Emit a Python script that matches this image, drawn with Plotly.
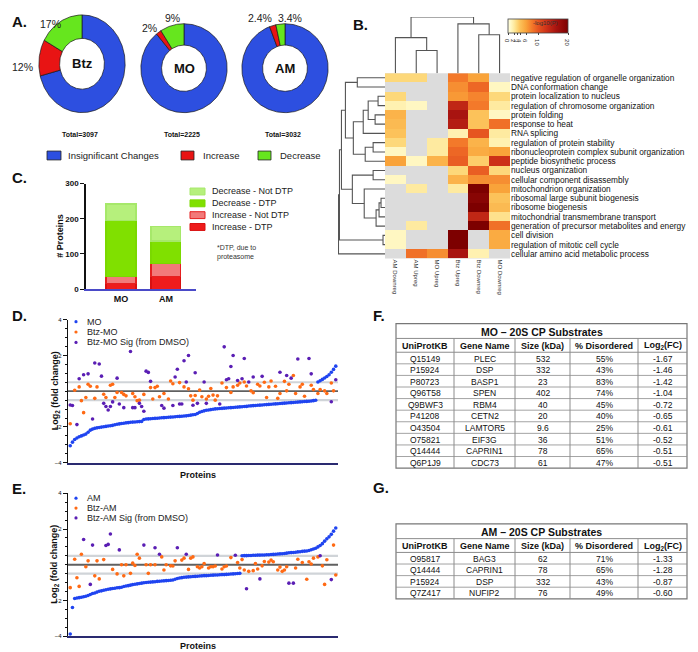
import numpy as np
import plotly.graph_objects as go

W, H = 698, 652
FONT = "Liberation Sans, Arial, sans-serif"

# ---------------- Panel A data ----------------
donut_names = ["Btz", "MO", "AM"]
donut_totals = [3097, 2225, 3032]
donut_categories = ["Insignificant Changes", "Increase", "Decrease"]
donut_insig = [71.0, 89.0, 94.2]
donut_increase = [12.0, 2.0, 2.4]
donut_decrease = [17.0, 9.0, 3.4]
donut_colors = ["#2d4fe0", "#e81414", "#66e61e"]

# ---------------- Panel B data ----------------
hm_columns = ["AM Downreg", "AM Upreg", "MO Upreg", "Btz Upreg", "Btz Downreg", "MO Downreg"]
hm_terms = [
    "negative regulation of organelle organization",
    "DNA conformation change",
    "protein localization to nucleus",
    "regulation of chromosome organization",
    "protein folding",
    "response to heat",
    "RNA splicing",
    "regulation of protein stability",
    "ribonucleoprotein complex subunit organization",
    "peptide biosynthetic process",
    "nucleus organization",
    "cellular component disassembly",
    "mitochondrion organization",
    "ribosomal large subunit biogenesis",
    "ribosome biogenesis",
    "mitochondrial transmembrane transport",
    "generation of precursor metabolites and energy",
    "cell division",
    "regulation of mitotic cell cycle",
    "cellular amino acid metabolic process",
]
N = None
hm_values = [
    [3, 3, N, 8, 6, N],
    [N, N, N, 7, 9, 1],
    [3, N, N, 6.5, 7.5, 3],
    [1.5, 1, N, 14, 8, 2],
    [5, N, N, 16, 4, 1],
    [4.5, N, N, 15, 4, 8.5],
    [4, N, N, 1.5, 10, 2],
    [3, N, 2, 8, 5, 1.5],
    [1, N, 2, 9, 5.5, 6],
    [6, 1, 5, 9.5, 3.5, 13],
    [N, N, N, 3, 9.5, 3],
    [1, N, N, 5, 7, 7],
    [N, 2, N, 2, 20, 6],
    [N, N, N, N, 19, 4],
    [N, N, N, N, 20, 4.5],
    [N, N, N, N, 14, 2.5],
    [N, 2, N, N, 20, 8.5],
    [1, N, N, 20, N, 5.5],
    [1, N, N, 20, N, 5.5],
    [N, 8.5, 7, 16, 1.5, N],
]
hm_ticks = [0, 2, 3, 4, 6, 10, 20]
# linkage: (child_a, child_b, height)
col_linkage = [(1, 2, 23), (0, 6, 36), (4, 5, 39), (3, 8, 50), (7, 9, 57)]
row_linkage = [(0, 1, 28), (2, 3, 7), (4, 5, 10), (21, 22, 17), (23, 6, 22),
               (7, 8, 12), (25, 9, 20), (24, 26, 32), (20, 27, 40),
               (10, 11, 12), (13, 14, 4), (30, 15, 6), (31, 16, 9), (12, 32, 21),
               (29, 33, 33), (28, 34, 44), (17, 18, 2), (35, 36, 46), (37, 19, 47)]

# ---------------- Panel C data ----------------
c_categories = ["MO", "AM"]
c_series = ["Increase - DTP", "Increase - Not DTP", "Decrease - DTP", "Decrease - Not DTP"]
c_inc_dtp = [17, 37]
c_inc_notdtp = [20, 35]
c_dec_dtp = [158, 65]
c_dec_notdtp = [47, 40]
c_ticks = [0, 100, 200, 300]

# ---------------- Panel D data ----------------
mo_fc = [-3.05, -2.85, -2.70, -2.62, -2.55, -2.50, -2.45, -2.40, -2.30, -2.18,
         -2.12, -2.08, -2.05, -2.03, -2.01, -1.99, -1.97, -1.95, -1.93, -1.91,
         -1.88, -1.85, -1.83, -1.81, -1.79, -1.77, -1.76, -1.74, -1.73, -1.72,
         -1.71, -1.70, -1.69, -1.58, -1.56, -1.55, -1.54, -1.53, -1.52, -1.51,
         -1.50, -1.49, -1.48, -1.47, -1.46, -1.45, -1.44, -1.43, -1.42, -1.41,
         -1.40, -1.39, -1.38, -1.36, -1.34, -1.32, -1.30, -1.25, -1.18, -1.14,
         -1.10, -1.07, -1.05, -1.03, -1.01, -0.99, -0.98, -0.97, -0.96, -0.95,
         -0.94, -0.93, -0.92, -0.91, -0.90, -0.89, -0.88, -0.87, -0.86, -0.85,
         -0.83, -0.82, -0.81, -0.80, -0.79, -0.78, -0.77, -0.76, -0.75, -0.74,
         -0.73, -0.72, -0.71, -0.70, -0.69, -0.68, -0.67, -0.66, -0.65, -0.64,
         -0.63, -0.62, -0.61, -0.60, -0.59, -0.58, -0.57, -0.56, -0.55, -0.53, -0.51,
         0.51, 0.58, 0.66, 0.74, 0.82, 0.92, 1.06, 1.22, 1.40]
btz_mo_idx = [1, 3, 5, 6, 7, 8, 9, 10, 12, 13, 16, 17, 19, 20, 21, 22, 24, 25, 26, 29,
              30, 31, 32, 34, 37, 38, 39, 40, 41, 43, 45, 46, 47, 50, 52, 54, 55, 56, 57, 59,
              60, 62, 63, 64, 65, 66, 67, 69, 71, 73, 74, 76, 77, 79, 80, 82, 83, 85, 86, 88,
              89, 90, 91, 93, 94, 95, 97, 98, 99, 101, 102, 104, 105, 106, 109, 110, 112, 113,
              115, 116, 118, 119]
btz_mo_fc = [-1.82, 0.05, 0.24, -0.53, -1.20, -0.35, 0.39, 0.28, -0.40, 0.24,
             -0.17, -0.35, 0.33, 0.39, -0.35, -0.07, -0.07, -0.18, -0.26, -0.13,
             -0.31, -0.53, -0.50, -0.18, 0.20, -0.44, 0.20, 0.28, -0.31, -0.13,
             -0.44, 0.57, 0.42, 0.48, 0.24, 0.13, -0.26, -0.50, -0.24, 0.06,
             -0.31, -0.44, -0.28, 0.15, -0.22, -0.50, -0.26, 0.46, 0.20, -0.07,
             0.24, 0.33, 0.46, 0.51, 0.29, 0.02, -0.09, 0.39, 0.29, 0.50,
             -0.35, 0.24, 0.57, 0.28, -0.40, -0.13, 0.55, 0.02, 0.39, 0.88,
             -0.13, 0.24, 0.39, -0.28, 0.33, 0.09, -0.13, 0.09, 0.02, -0.13,
             0.46, 0.02]
btz_mo_sig_idx = [1, 2, 4, 5, 7, 9, 11, 12, 14, 15, 16, 17, 18, 19, 20, 22, 23, 25, 28, 29,
                  30, 32, 33, 34, 35, 36, 37, 42, 43, 47, 48, 49, 50, 51, 52, 53, 54, 56, 57, 58,
                  61, 62, 68, 70, 71, 72, 73, 74, 76, 78, 79, 81, 83, 87, 95, 98, 100, 103, 108,
                  109, 118, 120]
btz_mo_sig_fc = [-0.77, -0.80, -1.87, 0.70, 0.92, 0.97, -1.56, 1.58, 1.52, 0.84,
                 -0.68, -0.86, -1.05, -0.86, -0.60, 0.73, -0.72, -0.92, 2.22, -0.92,
                 -0.92, -0.68, -0.86, -1.12, 1.12, 1.05, 0.55, -0.80, -0.95, -0.80,
                 0.79, 1.23, -0.72, -0.72, 1.70, 0.51, 2.00, -0.79, 1.03, -0.68,
                 0.51, -0.68, -0.72, 2.48, 0.64, 0.70, 1.38, 2.00, 0.60, 0.70,
                 1.83, 0.51, 0.79, 0.83, 1.06, 0.88, 0.73, 1.80, 1.83, 0.97,
                 -0.59, 0.64]

# ---------------- Panel E data ----------------
am_fc = [-3.87, -2.39, -1.89, -1.86, -1.84, -1.82, -1.79, -1.76, -1.72, -1.66,
         -1.61, -1.58, -1.53, -1.48, -1.46, -1.43, -1.40, -1.37, -1.35, -1.33,
         -1.31, -1.29, -1.28, -1.26, -1.22, -1.19, -1.17, -1.14, -1.11, -1.09,
         -1.07, -1.05, -1.03, -1.01, -0.99, -0.98, -0.97, -0.96, -0.95, -0.93,
         -0.92, -0.91, -0.90, -0.89, -0.88, -0.87, -0.85, -0.81, -0.77, -0.74,
         -0.72, -0.70, -0.69, -0.68, -0.67, -0.66, -0.65, -0.64, -0.63, -0.62,
         -0.61, -0.61, -0.60, -0.59, -0.58, -0.57, -0.57, -0.56, -0.55, -0.55,
         -0.54, -0.53, -0.52, -0.51, -0.50, -0.49, -0.48,
         0.50, 0.51, 0.51, 0.52, 0.52, 0.53, 0.53, 0.54, 0.54, 0.55, 0.55, 0.56, 0.56,
         0.57, 0.58, 0.59, 0.60, 0.61, 0.62, 0.63, 0.65, 0.67, 0.68,
         0.69, 0.70, 0.72, 0.73, 0.75, 0.76, 0.77, 0.80, 0.84, 0.88,
         0.92, 1.00, 1.08, 1.18, 1.32, 1.45, 1.56, 1.70, 1.88, 2.06]
btz_am_idx = [1, 3, 4, 5, 6, 8, 9, 12, 13, 14, 16, 20, 22, 24, 25, 26, 28, 29, 30, 31,
              32, 35, 36, 37, 39, 42, 43, 44, 46, 47, 48, 51, 52, 54, 55, 56, 58, 59, 60, 61,
              63, 64, 65, 66, 69, 70, 71, 73, 76, 77, 78, 79, 81, 83, 84, 85, 87, 88, 90, 91,
              92, 94, 95, 96, 97, 98, 102, 103, 105, 107, 108, 109, 110, 112, 114, 115, 116,
              119, 120]
btz_am_fc = [-1.28, 0.31, -0.73, -1.21, 0.59, -0.11, 0.22, -0.62, 0.22, -0.79,
             0.29, -0.26, -0.51, 0.00, -0.62, 0.00, -0.48, 0.09, -0.04, 0.59,
             0.37, 0.00, -0.48, 0.00, 0.00, 0.44, -0.29, 0.00, -0.06, -0.07,
             0.22, 0.26, 0.37, -0.26, 0.37, 0.44, -0.11, -0.18, -0.11, 0.07,
             -0.18, -0.11, -0.11, -0.07, -0.24, -0.11, -0.07, 0.40, 0.13, -0.18,
             0.29, -0.29, -0.37, -0.33, 0.07, -0.24, -0.06, 0.18, 0.15, 0.26,
             0.17, -0.29, -0.13, -0.37, -0.29, -0.11, -0.18, 0.31, 0.13, -0.81,
             0.17, 0.04, 0.37, 0.44, -0.06, -1.10, 0.28, 1.10, -0.57]
btz_am_sig_idx = [7, 10, 11, 17, 18, 19, 23, 34, 39, 41, 49, 53, 67, 75, 80, 86, 99, 101, 113, 118]
btz_am_sig_fc = [1.41, -1.10, 1.10, 1.08, 1.14, 1.72, 0.83, 1.10, 0.95, 0.59,
                 0.95, 0.59, 0.55, 0.53, -1.34, -0.79, -1.03, -1.03, 0.50, -0.83]
fc_ticks = [-4, -2, 2, 4]
fc_thresholds = [-0.5, 0.5]

# ---------------- Panels F & G data ----------------
table_headers = ["UniProtKB", "Gene Name", "Size (kDa)", "% Disordered", "Log<sub>2</sub>(FC)"]
f_title = "MO \u2013 20S CP Substrates"
f_uniprot = ["Q15149", "P15924", "P80723", "Q96T58", "Q9BWF3", "P41208", "O43504", "O75821", "Q14444", "Q6P1J9"]
f_gene = ["PLEC", "DSP", "BASP1", "SPEN", "RBM4", "CETN2", "LAMTOR5", "EIF3G", "CAPRIN1", "CDC73"]
f_size = ["532", "332", "23", "402", "40", "20", "9.6", "36", "78", "61"]
f_disordered = ["55%", "43%", "83%", "74%", "45%", "40%", "25%", "51%", "65%", "47%"]
f_log2fc = ["-1.67", "-1.46", "-1.42", "-1.04", "-0.72", "-0.65", "-0.61", "-0.52", "-0.51", "-0.51"]
g_title = "AM \u2013 20S CP Substrates"
g_uniprot = ["O95817", "Q14444", "P15924", "Q7Z417"]
g_gene = ["BAG3", "CAPRIN1", "DSP", "NUFIP2"]
g_size = ["62", "78", "332", "76"]
g_disordered = ["71%", "65%", "43%", "49%"]
g_log2fc = ["-1.33", "-1.28", "-0.87", "-0.60"]


# ---------------- helpers ----------------
def dx(a, b):
    return [a / W, b / W]


def dy(a, b):
    return [1 - b / H, 1 - a / H]


def px(x):
    return x / W


def py(y):
    return 1 - y / H


def sfx(i):
    return "" if i == 1 else str(i)


fig = go.Figure()
layout = dict(width=W, height=H, margin=dict(l=0, r=0, t=0, b=0),
              paper_bgcolor="white", plot_bgcolor="white",
              font=dict(family=FONT, color="#222"), showlegend=False)
annotations = []
shapes = []
hidden = dict(visible=False, showgrid=False, zeroline=False, fixedrange=True)


def ann(text, x, y, size, bold=False, xanchor="center", yanchor="middle", angle=0, color="#222", **kw):
    d = dict(text=text, x=px(x), y=py(y), xref="paper", yref="paper", showarrow=False,
             xanchor=xanchor, yanchor=yanchor, textangle=angle,
             font=dict(size=size, color=color, family=FONT, weight="bold" if bold else "normal"))
    d.update(kw)
    annotations.append(d)


# ---------------- Panel A: donuts ----------------
donut_boxes = [(30, 118, 2), (132, 220, 11), (233, 321, 11)]
for k in range(3):
    ax = k + 1
    vals = [donut_insig[k], donut_increase[k], donut_decrease[k]]
    start = 0.0
    for seg, v in enumerate(vals):
        t = np.linspace(start / 100, (start + v) / 100, max(int(v * 3) + 3, 4))
        th = np.pi / 2 - 2 * np.pi * t
        xo, yo = np.cos(th), np.sin(th)
        xi, yi = 0.52 * np.cos(th[::-1]), 0.52 * np.sin(th[::-1])
        xs = np.concatenate([xo, xi, xo[:1]])
        ys = np.concatenate([yo, yi, yo[:1]])
        fig.add_trace(go.Scatter(x=xs, y=ys, mode="lines", fill="toself",
                                 fillcolor=donut_colors[seg], line=dict(color="#1a1a1a", width=0.7),
                                 name=donut_categories[seg], hoverinfo="skip",
                                 xaxis="x" + sfx(ax), yaxis="y" + sfx(ax)))
        start += v
    x0, x1, top = donut_boxes[k]
    layout["xaxis" + sfx(ax)] = dict(hidden, domain=dx(x0, x1), range=[-1.02, 1.02], anchor="y" + sfx(ax))
    layout["yaxis" + sfx(ax)] = dict(hidden, domain=dy(top, 103), range=[-1.02, 1.02], anchor="x" + sfx(ax))
    annotations.append(dict(text=donut_names[k], x=0, y=0, xref="x" + sfx(ax), yref="y" + sfx(ax),
                            showarrow=False, font=dict(size=13, family=FONT, color="#111", weight="bold")))
    cx = (x0 + x1) / 2
    ann(f"Total={donut_totals[k]}", cx - 2, 124, 7, bold=True, color="#111")

pct_pos = [(donut_decrease[0], 42, 12), (donut_increase[0], 14, 56), (donut_increase[1], 141, 16),
           (donut_decrease[1], 164, 6), (donut_increase[2], 252, 6), (donut_decrease[2], 282, 6)]
for v, x, y in pct_pos:
    ann(f"{v:g}%", x, y, 10.5, color="#222")

for (x0, x1, tx), col, name in zip([(39, 53, 58), (173, 186, 193), (250, 263, 270)], donut_colors, donut_categories):
    shapes.append(dict(type="rect", xref="paper", yref="paper", x0=px(x0), x1=px(x1), y0=py(150), y1=py(141),
                       fillcolor=col, line=dict(color="#222", width=0.8)))
    ann(name, tx, 146, 9.5, xanchor="left")

# ---------------- Panel B: heatmap + dendrograms ----------------
hm_scale = [[0, "#ffffe5"], [0.05, "#fff7c2"], [0.1, "#feeaa0"], [0.15, "#fdd87a"], [0.2, "#fcc25a"],
            [0.3, "#f9a33a"], [0.4, "#f3792a"], [0.5, "#e65520"], [0.65, "#cc3018"], [0.8, "#a81410"],
            [1, "#7d0000"]]
fig.add_trace(go.Heatmap(z=hm_values, x=hm_columns, y=hm_terms, xaxis="x4", yaxis="y4",
                         colorscale=hm_scale, zmin=0, zmax=20, hoverongaps=False,
                         colorbar=dict(orientation="h", x=px(530), xanchor="center", y=py(7), yanchor="top",
                                       lenmode="pixels", len=60, thicknessmode="pixels", thickness=14,
                                       outlinewidth=0.8, outlinecolor="#444", tickvals=hm_ticks,
                                       ticktext=[str(t) for t in hm_ticks], tickfont=dict(size=6, color="#333"),
                                       ticks="outside", ticklen=2, xpad=0, ypad=0)))
layout["xaxis4"] = dict(domain=dx(377, 502), anchor="y4", tickangle=90, tickfont=dict(size=6, color="#333"),
                        tickmode="array", tickvals=hm_columns, ticktext=hm_columns,
                        ticks="", showgrid=False, zeroline=False, showline=False, fixedrange=True)
layout["yaxis4"] = dict(domain=dy(62, 250), anchor="x4", side="right", autorange="reversed",
                        tickmode="array", tickvals=hm_terms, ticktext=hm_terms,
                        tickfont=dict(size=8.3, color="#111"), ticks="", showgrid=False, zeroline=False,
                        showline=False, fixedrange=True)
shapes.append(dict(type="rect", xref="x4 domain", yref="y4 domain", x0=0, x1=1, y0=0, y1=1,
                   fillcolor="#dcdcdc", line=dict(width=0), layer="below"))
ann("-log10(P)", 537, 11, 6, color="#333")


def dendro(n_leaves, merges):
    pos = {i: float(i) for i in range(n_leaves)}
    hgt = {i: 0.0 for i in range(n_leaves)}
    p, h = [], []
    for k, (a, b, hh) in enumerate(merges):
        node = n_leaves + k
        p += [pos[a], pos[a], pos[b], pos[b], None]
        h += [hgt[a], hh, hh, hgt[b], None]
        pos[node] = (pos[a] + pos[b]) / 2
        hgt[node] = hh
    return p, h


cp, ch = dendro(len(hm_columns), col_linkage)
fig.add_trace(go.Scatter(x=cp, y=ch, mode="lines", line=dict(color="#555", width=1.1),
                         hoverinfo="skip", xaxis="x5", yaxis="y5"))
layout["xaxis5"] = dict(hidden, domain=dx(377, 502), range=[-0.5, 5.5], anchor="y5")
layout["yaxis5"] = dict(hidden, domain=dy(5, 62), range=[0, 57], anchor="x5")
rp, rh = dendro(len(hm_terms), row_linkage)
fig.add_trace(go.Scatter(x=rh, y=rp, mode="lines", line=dict(color="#555", width=1.1),
                         hoverinfo="skip", xaxis="x6", yaxis="y6"))
layout["xaxis6"] = dict(hidden, domain=dx(330, 377), range=[47.5, 0], anchor="y6")
layout["yaxis6"] = dict(hidden, domain=dy(62, 250), range=[19.5, -0.5], anchor="x6")

# ---------------- Panel C: stacked bars ----------------
c_vals = [c_inc_dtp, c_inc_notdtp, c_dec_dtp, c_dec_notdtp]
c_fill = ["#ee1c1c", "#f27a7a", "#80e000", "#b6f07c"]
c_line = ["#d81010", "#e52020", "#7ad800", "#a6e86a"]
for name, v, fc, lc in zip(c_series, c_vals, c_fill, c_line):
    fig.add_trace(go.Bar(x=c_categories, y=v, name=name, marker=dict(color=fc, line=dict(color=lc, width=1.2)),
                         width=0.667, xaxis="x7", yaxis="y7", hoverinfo="skip"))
layout["barmode"] = "stack"
layout["xaxis7"] = dict(domain=dx(78, 188), anchor="y7", range=[-0.78, 1.67], showline=True,
                        linecolor="#4a4ac8", linewidth=1.5, ticks="", tickfont=dict(size=9, weight="bold", color="#111"),
                        showgrid=False, zeroline=False, fixedrange=True)
layout["yaxis7"] = dict(domain=dy(174, 281), anchor="x7", range=[0, 300], tickvals=c_ticks, ticks="outside",
                        ticklen=4, tickwidth=1.3, tickcolor="#111", showline=True, linecolor="#111", linewidth=1.5,
                        tickfont=dict(size=8, weight="bold", color="#111"), showgrid=False, zeroline=False,
                        fixedrange=True)
ann("# Proteins", 52, 227, 9, bold=True, angle=-90, color="#111")
for name, fc, lc, yc in zip(c_series[::-1], c_fill[::-1], c_line[::-1], [182, 194, 206, 218]):
    shapes.append(dict(type="rect", xref="paper", yref="paper", x0=px(182), x1=px(197), y0=py(yc + 3.5),
                       y1=py(yc - 3.5), fillcolor=fc, line=dict(color=lc, width=1)))
    ann(name, 202, yc, 9, xanchor="left")
ann("*DTP, due to<br>proteasome", 207, 244, 7, xanchor="left", color="#333", align="left")

# ---------------- Panels D & E: scatter ----------------
blue, orange, purple = "#1f44f0", "#ff6a14", "#5a1eb4"


def fc_panel(ax, y0, y1, base, base_name, btz_idx, btz_fc, sig_idx, sig_fc, btz_name, sig_name, leg_y):
    xs = list(range(1, len(base) + 1))
    fig.add_trace(go.Scatter(x=btz_idx, y=btz_fc, mode="markers", marker=dict(color=orange, size=3.6),
                             name=btz_name, xaxis="x" + sfx(ax), yaxis="y" + sfx(ax), hoverinfo="skip"))
    fig.add_trace(go.Scatter(x=sig_idx, y=sig_fc, mode="markers", marker=dict(color=purple, size=3.6),
                             name=sig_name, xaxis="x" + sfx(ax), yaxis="y" + sfx(ax), hoverinfo="skip"))
    fig.add_trace(go.Scatter(x=xs, y=base, mode="markers", marker=dict(color=blue, size=3.6),
                             name=base_name, xaxis="x" + sfx(ax), yaxis="y" + sfx(ax), hoverinfo="skip"))
    layout["xaxis" + sfx(ax)] = dict(domain=dx(60, 330), anchor="y" + sfx(ax), range=[0, 121], showline=True,
                                     linecolor="#2a2a70", linewidth=1.5, showticklabels=False, ticks="",
                                     showgrid=False, zeroline=False, fixedrange=True)
    layout["yaxis" + sfx(ax)] = dict(domain=dy(y0, y1), anchor="x" + sfx(ax), range=[-4, 4], tickvals=fc_ticks,
                                     ticks="outside", ticklen=4, tickwidth=1, tickcolor="#111",
                                     minor=dict(dtick=0.5, ticklen=2, ticks="outside", tickcolor="#111"),
                                     showline=True, linecolor="#111", linewidth=1.2,
                                     tickfont=dict(size=6, color="#111"), showgrid=False, zeroline=False,
                                     fixedrange=True)
    for t in fc_thresholds:
        shapes.append(dict(type="line", xref="x" + sfx(ax) + " domain", yref="y" + sfx(ax), x0=0, x1=1, y0=t, y1=t,
                           line=dict(color="#d0d4d8", width=2.2), layer="below"))
    shapes.append(dict(type="line", xref="x" + sfx(ax) + " domain", yref="y" + sfx(ax), x0=0, x1=1, y0=0, y1=0,
                       line=dict(color="#606060", width=1.8), layer="below"))
    ann("Log<sub>2</sub> (fold change)", 47, (y0 + y1) / 2, 9, bold=True, angle=-90, color="#111")
    ann("Proteins", 190, min(y1 + 12.5, 643), 9, bold=True, color="#111")
    for name, col, ly in zip([base_name, btz_name, sig_name], [blue, orange, purple], leg_y):
        shapes.append(dict(type="circle", xref="paper", yref="paper", x0=px(66.4), x1=px(69.6),
                           y0=py(ly + 1.6), y1=py(ly - 1.6), fillcolor=col, line=dict(width=0)))
        ann(name, 77, ly, 9, xanchor="left")


fc_panel(8, 312, 457, mo_fc, "MO", btz_mo_idx, btz_mo_fc, btz_mo_sig_idx, btz_mo_sig_fc,
         "Btz-MO", "Btz-MO Sig (from DMSO)", [314, 324.5, 335])
fc_panel(9, 488, 633, am_fc, "AM", btz_am_idx, btz_am_fc, btz_am_sig_idx, btz_am_sig_fc,
         "Btz-AM", "Btz-AM Sig (from DMSO)", [493, 503, 513])

# ---------------- Panels F & G: tables ----------------
col_edges = [388, 446, 507, 562, 630, 679]
title_h, head_h, row_h = 15, 14, 11.75
grid_col = "#8c8c8c"


def hline(x0, x1, y, w=1, c=grid_col):
    shapes.append(dict(type="line", xref="paper", yref="paper", x0=px(x0), x1=px(x1), y0=py(y), y1=py(y),
                       line=dict(color=c, width=w)))


def vline(x, y0, y1, w=1, c=grid_col):
    shapes.append(dict(type="line", xref="paper", yref="paper", x0=px(x), x1=px(x), y0=py(y0), y1=py(y1),
                       line=dict(color=c, width=w)))


def draw_table(title, cols, top):
    n = len(cols[0])
    head_top = top + title_h
    body_top = head_top + head_h
    bottom = body_top + n * row_h
    left, right = col_edges[0], col_edges[-1]
    shapes.append(dict(type="rect", xref="paper", yref="paper", x0=px(left), x1=px(right), y0=py(bottom),
                       y1=py(top), line=dict(color="#777", width=1.2), fillcolor="rgba(0,0,0,0)"))
    hline(left, right, head_top)
    hline(left, right, body_top)
    for i in range(1, n):
        hline(left, right, body_top + i * row_h, w=0.8)
    for xe in col_edges[1:-1]:
        vline(xe, head_top, bottom)
    ann(f"<b>{title}</b>", (left + right) / 2, top + title_h / 2 + 0.5, 10.5, color="#111")
    for j, h in enumerate(table_headers):
        cx = (col_edges[j] + col_edges[j + 1]) / 2
        ann(f"<b>{h}</b>", cx, head_top + head_h / 2 + 0.5, 9, color="#111")
        for i, v in enumerate(cols[j]):
            ann(v, cx, body_top + (i + 0.5) * row_h + 0.5, 8.5, color="#111")


draw_table(f_title, [f_uniprot, f_gene, f_size, f_disordered, f_log2fc], 316)
draw_table(g_title, [g_uniprot, g_gene, g_size, g_disordered, g_log2fc], 519)

# ---------------- panel letters ----------------
for txt, x, y in [("A.", 2, 10), ("B.", 343, 13), ("C.", 2, 168), ("D.", 2, 308), ("E.", 2, 483),
                  ("F.", 363, 308), ("G.", 363, 482)]:
    ann(txt, x, y, 15, bold=True, xanchor="left", color="#111")

layout["annotations"] = annotations
layout["shapes"] = shapes
fig.update_layout(**layout)
fig.write_html("out.html")
